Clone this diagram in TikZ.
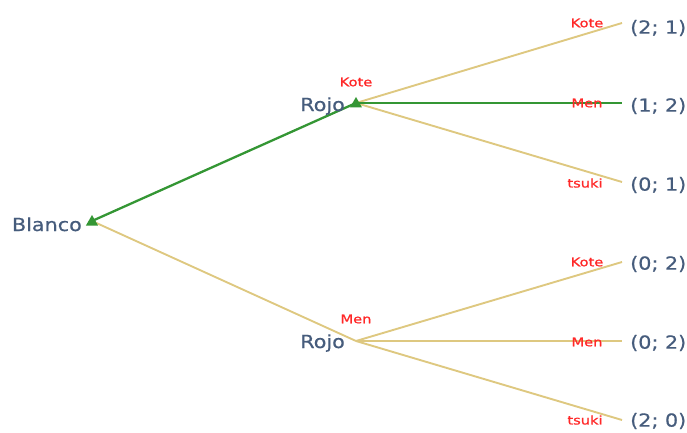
\documentclass[tikz,border=0pt]{standalone}
\usepackage{fontspec}
\usetikzlibrary{shapes.geometric}
\newfontfamily\playerfont[FakeStretch=1.15,FakeBold=0.6]{DejaVu Sans}
\newfontfamily\actionfont[FakeStretch=1.22,FakeBold=0.8]{DejaVu Sans}
\definecolor{pathgreen}{RGB}{52,150,52}
\definecolor{branchtan}{RGB}{222,200,128}
\definecolor{slatetext}{RGB}{70,92,124}
\definecolor{actionred}{RGB}{255,40,40}

\tikzset{
  chosen/.style={draw=pathgreen, line width=2.3pt},
  other/.style={draw=branchtan, line width=1.9pt},
  player/.style={text=slatetext, font=\playerfont\fontsize{18}{20}\selectfont, inner sep=0pt},
  payoff/.style={text=slatetext, font=\playerfont\fontsize{18}{20}\selectfont, inner sep=0pt, anchor=west},
  action/.style={text=actionred, font=\actionfont\fontsize{12}{13}\selectfont, inner sep=0pt},
  movetri/.style={regular polygon, regular polygon sides=3, fill=pathgreen, draw=none,
                  minimum size=14pt, inner sep=0pt},
}

\begin{document}
\begin{tikzpicture}[x=1pt, y=-1pt]
\useasboundingbox (0,0) rectangle (687,433);

% decision points and terminal points
\coordinate (b)  at (92,221);
\coordinate (r1) at (356,103);
\coordinate (r2) at (356,341);
\coordinate (l1) at (622,23);
\coordinate (l2) at (622,103);
\coordinate (l3) at (622,182);
\coordinate (l4) at (622,262);
\coordinate (l5) at (622,341);
\coordinate (l6) at (622,420);

% branches
\draw[other]  (b)  -- (r2);
\draw[other]  (r1) -- (l1);
\draw[other]  (r1) -- (l3);
\draw[other]  (r2) -- (l4);
\draw[other]  (r2) -- (l5);
\draw[other]  (r2) -- (l6);
\draw[chosen] (b)  -- (r1);
\draw[chosen] (r1) -- (l2);

% markers on the equilibrium path
\node[movetri] (tb)  at ([yshift=-1pt]b)  {};
\node[movetri] (tr1) at ([yshift=-1pt]r1) {};

% players
\node[player, anchor=base east] (nb)  at (82,231)  {Blanco};
\node[player, anchor=base east] (nr1) at (345,111) {Rojo};
\node[player, anchor=base east] (nr2) at (345,348) {Rojo};

% actions
\node[action] (a0) at (356,82)  {Kote};
\node[action] (a1) at (356,319) {Men};
\node[action] (k1) at (587,23)  {Kote};
\node[action] (m1) at (587,103) {Men};
\node[action] (t1) at (585,183) {tsuki};
\node[action] (k2) at (587,262) {Kote};
\node[action] (m2) at (587,342) {Men};
\node[action] (t2) at (585,420) {tsuki};

% payoffs
\node[payoff] (p1) at (630,28)  {(2; 1)};
\node[payoff] (p2) at (630,106) {(1; 2)};
\node[payoff] (p3) at (630,185) {(0; 1)};
\node[payoff] (p4) at (630,264) {(0; 2)};
\node[payoff] (p5) at (630,343) {(0; 2)};
\node[payoff] (p6) at (630,421) {(2; 0)};
\end{tikzpicture}
\end{document}
